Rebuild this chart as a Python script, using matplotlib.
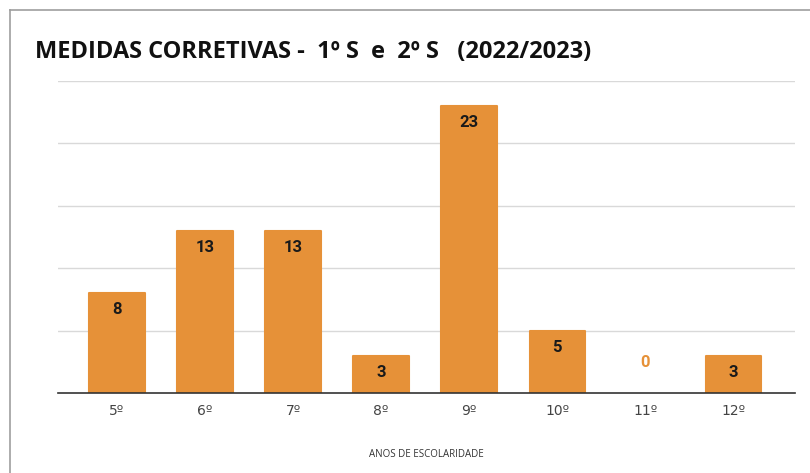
import matplotlib.pyplot as plt
from matplotlib.lines import Line2D

anos = ['5º', '6º', '7º', '8º', '9º', '10º', '11º', '12º']
medidas = [8, 13, 13, 3, 23, 5, 0, 3]

cor = '#E69138'
plt.rcParams['font.family'] = ['Open Sans', 'DejaVu Sans']

fig = plt.figure(figsize=(8.1, 4.73), dpi=100)
ax = fig.add_axes([58/810, 1 - 393/473, (795 - 58)/810, (393 - 81)/473])

x = range(len(anos))
bars = ax.bar(x, medidas, width=0.63, color=cor, edgecolor=cor,
              linewidth=[1.5 if v > 0 else 0 for v in medidas],
              joinstyle='round', zorder=3)

ax.set_ylim(0, 25)
ax.set_xlim(-0.67, 7.7)
ax.set_yticks([5, 10, 15, 20, 25])
ax.set_yticklabels([])
ax.tick_params(axis='y', length=0)
ax.grid(axis='y', color='#d9d9d9', linewidth=1, zorder=0)

ax.set_xticks(list(x))
ax.set_xticklabels(anos, fontsize=10, color='#444444', family='DejaVu Sans')
ax.tick_params(axis='x', length=0, pad=8)

for s in ['top', 'right', 'left']:
    ax.spines[s].set_visible(False)
ax.spines['bottom'].set_color('#333333')
ax.spines['bottom'].set_linewidth(1.2)
ax.spines['bottom'].set_zorder(4)

for b, v in zip(bars, medidas):
    cx = b.get_x() + b.get_width() / 2
    if v > 0:
        ax.annotate(str(v), (cx, v), xytext=(0, -12), textcoords='offset points',
                    ha='center', va='center', fontsize=12, fontweight='bold',
                    color='#1a1a1a', family='Roboto', zorder=5)
    else:
        ax.annotate(str(v), (cx, v), xytext=(0, 22), textcoords='offset points',
                    ha='center', va='center', fontsize=12, fontweight='bold',
                    color=cor, family='Roboto', zorder=5)

ax.set_xlabel('ANOS DE ESCOLARIDADE', fontsize=7, color='#333333', labelpad=22)

fig.text(35/810, 1 - 52/473, 'MEDIDAS CORRETIVAS -  1º S  e  2º S   (2022/2023)',
         fontsize=17, fontweight='bold', color='#111111', va='center', ha='left')

# moldura
fig.add_artist(Line2D([10/810, 1], [1 - 10/473, 1 - 10/473], color='#9e9e9e', linewidth=1.2))
fig.add_artist(Line2D([10/810, 10/810], [0, 1 - 10/473], color='#9e9e9e', linewidth=1.2))

fig.savefig('out.png', dpi=100)
